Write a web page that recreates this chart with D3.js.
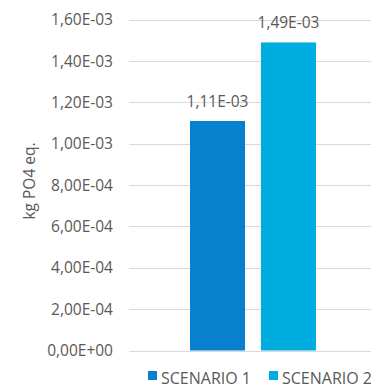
<!DOCTYPE html>
<html>
<head>
<meta charset="utf-8">
<script src="https://cdn.jsdelivr.net/npm/d3@7"></script>
<style>
  html, body { margin: 0; padding: 0; background: #fff; }
  svg { display: block; }
</style>
</head>
<body>
<svg id="chart" width="371" height="386"></svg>
<script>
// Eutrophication result per scenario
const categories = ["SCENARIO 1", "SCENARIO 2"];
const values = [1.11e-3, 1.49e-3];
const valueLabels = ["1,11E-03", "1,49E-03"];
const colors = ["#0780CE", "#00ADDF"];
const tickValues = [0, 2e-4, 4e-4, 6e-4, 8e-4, 1e-3, 1.2e-3, 1.4e-3, 1.6e-3];
const tickLabels = ["0,00E+00", "2,00E-04", "4,00E-04", "6,00E-04", "8,00E-04",
                    "1,00E-03", "1,20E-03", "1,40E-03", "1,60E-03"];
const yTitle = "kg PO4 eq.";

const font = "'Open Sans', 'Noto Sans', sans-serif";
const textColor = "#595959";

const svg = d3.select("#chart");
const plot = { left: 130, right: 376, top: 19.7, bottom: 350.5 };

const y = d3.scaleLinear().domain([0, 1.6e-3]).range([plot.bottom, plot.top]);
const x = d3.scaleBand().domain(categories)
  .range([190, 316]).paddingInner(0.225).paddingOuter(0);

// gridlines
svg.append("g").selectAll("line").data(tickValues).join("line")
  .attr("x1", plot.left - 1).attr("x2", plot.right)
  .attr("y1", d => Math.round(y(d)) + 0.5).attr("y2", d => Math.round(y(d)) + 0.5)
  .attr("stroke", "#d9d9d9").attr("stroke-width", 1);

// y axis labels
const yAxis = d3.axisLeft(y).tickValues(tickValues)
  .tickFormat((d, i) => tickLabels[i]).tickSize(0).tickPadding(0);
const gy = svg.append("g").attr("transform", `translate(113,0)`).call(yAxis);
gy.select(".domain").remove();
gy.selectAll("text").attr("fill", textColor)
  .style("font-family", font).style("font-size", "15.5px");

// y axis title
svg.append("text")
  .attr("transform", `translate(35,181) rotate(-90)`)
  .attr("text-anchor", "middle")
  .attr("fill", textColor)
  .style("font-family", font).style("font-size", "15.5px")
  .text(yTitle);

// bars
svg.append("g").selectAll("rect").data(categories).join("rect")
  .attr("x", d => x(d))
  .attr("width", x.bandwidth())
  .attr("y", (d, i) => y(values[i]))
  .attr("height", (d, i) => y(0) - y(values[i]))
  .attr("fill", (d, i) => colors[i]);

// value labels
svg.append("g").selectAll("text").data(categories).join("text")
  .attr("x", d => x(d) + x.bandwidth() / 2)
  .attr("y", (d, i) => y(values[i]) - 14)
  .attr("text-anchor", "middle")
  .attr("fill", textColor)
  .style("font-family", font).style("font-size", "15.5px")
  .text((d, i) => valueLabels[i]);

// legend
const legendX = [148, 269];
const lg = svg.append("g").selectAll("g").data(categories).join("g")
  .attr("transform", (d, i) => `translate(${legendX[i]},371)`);
lg.append("rect").attr("width", 9).attr("height", 9)
  .attr("fill", (d, i) => colors[i]);
lg.append("text").attr("x", 13).attr("y", 13)
  .attr("fill", textColor)
  .style("font-family", font).style("font-size", "16px")
  .text(d => d);
</script>
</body>
</html>
